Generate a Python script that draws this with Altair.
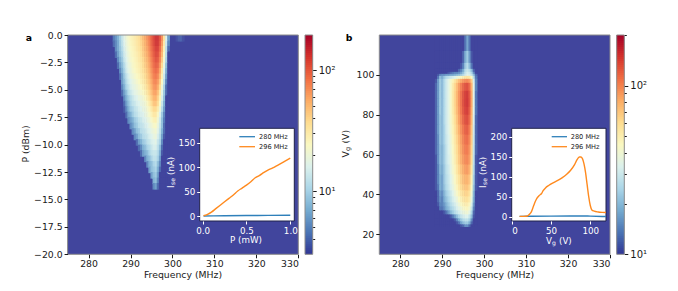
import altair as alt
import numpy as np
import pandas as pd

FONT = "DejaVu Sans"
W, H = 662, 275

# ---------- panel a heat map: each row ends at 299 MHz, 0.5 MHz steps, 0.5 dBm rows
a_power = [0.0, -0.5, -1.0, -1.5, -2.0, -2.5, -3.0, -3.5, -4.0, -4.5, -5.0, -5.5, -6.0, -6.5,
           -7.0, -7.5, -8.0, -8.5, -9.0, -9.5, -10.0, -10.5, -11.0, -11.5, -12.0, -12.5, -13.0, -13.5]
a_rows = [
    [4.5,5.5,7,9.5,13,17,20,23,26,28,30,33,36,42,50,58,68,82,100,120, 140,140,110,70,35,16,6],
    [4,5,6.5,9,12,16,19,22,25,27,29,32,35,40,47,55,65,78,96,115, 135,135,105,65,32,14,5],
    [5,6.5,8.5,11,15,18,21,24,26,28,31,34,38,45,52,61,74,91,108, 125,125,95,58,28,12,4],
    [4,6,8,10,14,17,20,23,25,27,29,32,36,42,49,57,69,85,102, 118,115,85,52,25,11,3],
    [5,7,9,13,16,19,22,24,26,28,31,34,39,46,53,64,79,95, 110,105,78,45,22,10,3],
    [4,6,8,11,15,18,20,23,25,27,29,32,37,43,50,60,74,90, 100,95,68,38,19,8,3],
    [5,7,10,14,17,19,22,24,26,28,31,35,40,47,56,69,84, 92,85,60,32,16,7,3],
    [4,6,9,12,15,18,20,22,24,26,29,32,37,44,52,64,78, 84,75,52,28,14,6,3],
    [6,8,11,14,16,18,20,22,24,27,30,34,41,48,59,72, 76,66,45,24,12,5,3],
    [5,7,10,12,15,17,18,20,22,24,27,31,37,44,54,66, 69,58,38,20,10,4,3],
    [4,6,8,11,13,15,17,18,20,22,24,28,33,40,49,60, 62,50,32,17,9,4,3],
    [5,7,9,11,13,15,16,18,19,21,24,29,35,43,53, 55,42,27,15,8,3,3],
    [4,6,8,10,12,13,15,16,18,19,21,25,30,37,46, 47,38,24,13,7,3,3],
    [3.5,5,7,9,10,12,13,15,16,18,19,22,26,31,38, 38,30,20,11,6,3,3],
    [4,6,7,9,11,12,14,15,16,18,20,23,27,32, 32,25,16,9,5,3,3],
    [5,6,7,9,10,12,13,15,16,18,20,23,27, 28,21,14,8,4.5,3,3],
    [5,6,8,9,11,12,13,15,16,18,20,23, 24,19,13,8,4,3,3],
    [5,6,8,9,11,12,13,15,16,18,20, 21,17,12,7,4,3,3],
    [5,6,8,9,11,12,13,15,16,18, 19,15,11,6,3.5,3,3],
    [4,6,7,9,10,12,13,15,16, 17,13,10,5,3,3,3],
    [4,5,7,8,10,11,13,15, 15,12,8,4,3,3,3],
    [4,6,7,8,10,12,13, 13,11,7,3.5,3,3,3],
    [5,7,8,10,12, 12,10,6,3,3,3,3],
    [5,7,8,10, 11,8,5,3,3,3,3],
    [6,8,9, 10,7,4,3,3,3,3],
    [6,8, 9,6,3,3,3,3,3],
    [7, 8,5,3,3,3,3,3],
    [5, 6,4,3,3,3,3,3],
]
a_blob_freq = [301.0, 301.5, 302.0, 302.5]
a_blob_vals = [3.3, 3.7, 3.8, 3.3]

# ---------- panel b heat map: columns 288.5 .. 298 MHz, rows between gate-voltage edges
b_freq = [288.5, 289, 289.5, 290, 290.5, 291, 291.5, 292, 292.5, 293,
          293.5, 294, 294.5, 295, 295.5, 296, 296.5, 297, 297.5, 298]
b_edges = [120, 112, 106, 103, 101.5, 100.5, 99.5, 98, 96, 92, 88, 84, 80, 75, 70, 65, 60, 55,
           50, 45, 42, 39, 36, 34, 32, 30, 28, 26.5, 25, 24]
b_rows = [
    [10,10,10,10,10,10,10,10,10,10,10,10,10,10,13,17,13,10,10,10],
    [10,10,10,10,10,10,10,10,10,10,10,10,10,12,18,22,16,11,10,10],
    [10,10,10,10,10,10,10,10,10,10,10,10,11,14,22,26,20,13,10,10],
    [10,10,10,10,10,10,10,10,10,10,10,12,14,18,26,29,26,20,12,10],
    [10,10,10,10,10,10,11,12,13,14,14,15,17,21,28,32,30,24,15,10],
    [10,11,14,15,15,16,16,17,17,18,19,20,22,25,30,34,32,28,20,12],
    [10,13,20,18,22,25,27,29,31,33,37,40,46,50,55,57,54,44,26,13],
    [11,16,22,20,25,30,35,41,48,56,65,75,84,92,98,100,92,68,32,14],
    [12,16,22,20,25,30,35,42,52,63,75,90,105,120,132,136,118,80,35,14],
    [12,16,22,20,25,30,35,42,53,64,78,94,112,132,148,154,130,85,35,13],
    [12,16,22,20,25,30,35,42,53,64,78,94,112,134,150,156,132,85,35,13],
    [12,16,22,20,25,30,35,42,52,63,76,92,110,130,145,150,126,82,34,13],
    [12,16,21,20,25,30,35,41,50,60,72,88,103,120,135,138,118,78,32,12],
    [12,16,21,20,24,30,34,40,48,57,68,82,96,110,123,126,108,72,30,12],
    [12,15,21,20,24,29,33,38,46,54,64,76,89,102,113,116,100,68,29,12],
    [12,15,20,19,23,28,33,37,44,52,61,73,85,97,106,108,94,64,28,12],
    [11,15,20,19,23,28,32,36,43,50,59,70,81,91,99,101,90,61,27,11],
    [11,14,19,18,22,27,30,35,41,47,55,64,73,82,89,91,81,55,25,11],
    [11,14,18,17,22,26,29,33,38,44,51,58,66,74,79,80,71,49,23,11],
    [11,13,18,17,21,25,28,32,36,41,47,54,61,67,71,72,64,44,21,11],
    [10,12,16,15,19,23,26,29,33,38,43,49,55,60,64,64,58,40,19,10],
    [10,12,15,14,18,21,24,27,31,34,38,44,49,54,57,58,52,36,18,10],
    [10,11,14,14,16,19,22,25,28,31,35,39,44,48,51,51,46,32,16,10],
    [10,10,13,13,15,18,20,23,25,28,32,35,39,43,45,46,41,28,14,10],
    [10,10,10,10,11,13,16,19,22,25,28,31,34,37,39,40,35,24,12,10],
    [10,10,10,10,10,10,10,11,13,16,20,24,28,31,33,33,28,20,11,10],
    [10,10,10,10,10,10,10,10,10,11,14,18,22,25,27,27,23,15,10,10],
    [10,10,10,10,10,10,10,10,10,10,11,13,17,20,22,22,18,12,10,10],
    [10,10,10,10,10,10,10,10,10,10,10,10,11,12,15,15,12,10,10,10],
]

# ---------- inset curves
ia_p_296 = [0.01,0.05,0.1,0.15,0.2,0.25,0.3,0.35,0.4,0.45,0.5,0.55,0.6,0.65,0.7,0.75,0.8,0.85,0.9,0.95,1.0]
ia_i_296 = [0.5,3,8,15,22,29,36,43,51,57,63,70,78,83,89,94,98,103,108,113,118]
ia_p_280 = [0.01,0.25,0.5,0.75,1.0]
ia_i_280 = [0.1,0.6,1.0,1.2,1.5]
ib_v_296 = [10,15,20,22,25,28,30,32,35,38,40,43,47,52,58,64,70,75,80,83,86,88,90,92,94,96,98,100,102,105,110,115,120]
ib_i_296 = [1,1,2,5,12,28,38,46,53,58,65,72,78,84,90,97,106,116,130,142,149,149,145,132,110,80,50,28,17,14,12,11,10.5]
ib_v_280 = [10,50,90,100,120]
ib_i_280 = [1,1.5,2,1.5,0.5]

a_label, b_label = "a", "b"
xticks = [280, 290, 300, 310, 320, 330]
ya_ticks = [0, -2.5, -5, -7.5, -10, -12.5, -15, -17.5, -20]
yb_ticks = [20, 40, 60, 80, 100]
series_names = ["280 MHz", "296 MHz"]
BLUE, ORANGE = "#2f80ba", "#ff8a1e"
FRAME = "#8c8c8c"
INK = "#1a1a1a"


def xy_scale(domain, rng):
    return alt.Scale(domain=domain, range=rng, nice=False, zero=False)


def cscale(lo, hi):
    return alt.Scale(type="log", domain=[lo, hi], scheme="redyellowblue", reverse=True, clamp=True)


def box(x0, x1, y0, y1):
    return pd.DataFrame({"x0": [x0], "x1": [x1], "y0": [y0], "y1": [y1]})


def heat_layers(cells, bg, sx, sy, cs, xvals, yvals, yfmt, xoff, yoff):
    b = box(sx.domain[0], sx.domain[1], sy.domain[0], sy.domain[1])
    b["v"] = bg
    base = alt.Chart(b).mark_rect().encode(
        x=alt.X("x0:Q", scale=sx, axis=None), x2="x1:Q",
        y=alt.Y("y0:Q", scale=sy, axis=None), y2="y1:Q",
        color=alt.Color("v:Q", scale=cs, legend=None))
    heat = alt.Chart(cells).mark_rect().encode(
        x=alt.X("x0:Q", scale=sx, axis=None), x2="x1:Q",
        y=alt.Y("y0:Q", scale=sy, axis=None), y2="y1:Q",
        color=alt.Color("v:Q", scale=cs, legend=None))
    veil = alt.Chart(b).mark_rect(fill="white", opacity=0.08).encode(
        x=alt.X("x0:Q", scale=sx, axis=None), x2="x1:Q",
        y=alt.Y("y0:Q", scale=sy, axis=None), y2="y1:Q")
    frame = alt.Chart(b).mark_rect(filled=False, stroke=FRAME, strokeWidth=1).encode(
        x=alt.X("x0:Q", scale=sx, axis=alt.Axis(
            orient="bottom", offset=xoff, values=xvals, title=None, grid=False, domain=False,
            tickColor=INK, tickSize=3.5, labelColor=INK, labelFont=FONT, labelFontSize=9.3,
            labelPadding=2, zindex=1, format="d")), x2="x1:Q",
        y=alt.Y("y0:Q", scale=sy, axis=alt.Axis(
            orient="left", offset=yoff, values=yvals, title=None, grid=False, domain=False,
            tickColor=INK, tickSize=3.5, labelColor=INK, labelFont=FONT, labelFontSize=9.3,
            labelPadding=2, zindex=1, format=yfmt)), y2="y1:Q")
    return [base, heat, veil, frame]


def colorbar_layers(lo, hi, x0, x1, yrange, major, minor, offset):
    sy = alt.Scale(type="log", domain=[lo, hi], range=yrange, nice=False, zero=False)
    cs = cscale(lo, hi)
    edges = np.geomspace(lo, hi, 111)
    ramp = pd.DataFrame({"y0": edges[:-1], "y1": np.minimum(edges[:-1] * (edges[1] / edges[0]) ** 2, hi),
                         "v": np.sqrt(edges[:-1] * edges[1:])})
    bar = alt.Chart(ramp).mark_rect().encode(
        x=alt.value(x0), x2=alt.value(x1),
        y=alt.Y("y0:Q", scale=sy, axis=None), y2="y1:Q",
        color=alt.Color("v:Q", scale=cs, legend=None))
    b = pd.DataFrame({"y0": [lo], "y1": [hi]})
    fr = alt.Chart(b).mark_rect(filled=False, stroke=FRAME, strokeWidth=1).encode(
        x=alt.value(x0), x2=alt.value(x1),
        y=alt.Y("y0:Q", scale=sy, axis=alt.Axis(
            orient="right", offset=offset, values=major, title=None, grid=False, domain=False,
            tickColor=INK, tickSize=3.5, labelColor=INK, labelFont=FONT, labelFontSize=10,
            labelPadding=2, zindex=1,
            labelExpr="datum.value >= 100 ? '10\u00b2' : '10\u00b9'")), y2="y1:Q")
    mn = alt.Chart(b).mark_rect(opacity=0).encode(
        x=alt.value(x0), x2=alt.value(x1),
        y=alt.Y("y0:Q", scale=sy, axis=alt.Axis(
            orient="right", offset=offset, values=minor, title=None, grid=False, domain=False,
            tickColor=INK, tickSize=2, labels=False, zindex=1)), y2="y1:Q")
    return [bar, fr, mn]


def inset_layers(sx, sy, xvals, yvals, xfmt, lines, xoff, yoff):
    b = box(sx.domain[0], sx.domain[1], sy.domain[0], sy.domain[1])
    wh = alt.Chart(b).mark_rect(fill="white", stroke="#20224a", strokeWidth=1).encode(
        x=alt.X("x0:Q", scale=sx, axis=alt.Axis(
            orient="bottom", offset=xoff, values=xvals, title=None, grid=False, domain=False,
            tickColor="white", tickSize=3, labelColor="white", labelFont=FONT, labelFontSize=8.7,
            labelPadding=2, zindex=1, format=xfmt)), x2="x1:Q",
        y=alt.Y("y0:Q", scale=sy, axis=alt.Axis(
            orient="left", offset=yoff, values=yvals, title=None, grid=False, domain=False,
            tickColor="white", tickSize=3, labelColor="white", labelFont=FONT, labelFontSize=8.7,
            labelPadding=2, zindex=1, format="d")), y2="y1:Q")
    out = [wh]
    for xs, ys, col in lines:
        out.append(alt.Chart(pd.DataFrame({"x": xs, "y": ys})).mark_line(
            color=col, strokeWidth=1.4, interpolate="monotone").encode(
            x=alt.X("x:Q", scale=sx, axis=None), y=alt.Y("y:Q", scale=sy, axis=None)))
    return out


def text(s, x, y, size=9.3, color=INK, angle=0, align="center", weight="normal"):
    return alt.Chart(pd.DataFrame({"t": [s]})).mark_text(
        font=FONT, fontSize=size, color=color, angle=angle, align=align, baseline="middle",
        fontWeight=weight).encode(text="t:N", x=alt.value(x - 8), y=alt.value(y - 8))


def sub_title(main, sub, rest, x, y, size, color, vertical, w_main, w_sub):
    """Title with a real lowered subscript; (x, y) is the start of the string."""
    s2 = size * 0.7
    if vertical:
        return [text(main, x, y, size, color, 270, "left"),
                text(sub, x + 2, y - w_main, s2, color, 270, "left"),
                text(rest, x, y - w_main - w_sub, size, color, 270, "left")]
    return [text(main, x, y, size, color, 0, "left"),
            text(sub, x + w_main, y + 2, s2, color, 0, "left"),
            text(rest, x + w_main + w_sub, y, size, color, 0, "left")]


def legend_layers(x0, x1, xt, y1, y2):
    out = []
    for name, col, yy in [(series_names[0], BLUE, y1), (series_names[1], ORANGE, y2)]:
        out.append(alt.Chart(pd.DataFrame({"t": [name]})).mark_rule(color=col, strokeWidth=1.3).encode(
            x=alt.value(x0 - 8), x2=alt.value(x1 - 8), y=alt.value(yy - 8)))
        out.append(text(name, xt, yy, 6.6, INK, 0, "left"))
    return out


# ---------- cells (each cell slightly overlaps the next one drawn, which hides seams)
cells_a = []
for p, row in zip(a_power, a_rows):
    for i, v in enumerate(row):
        f = 299 - 0.5 * (len(row) - 1 - i)
        cells_a.append({"x0": f - 0.25, "x1": f + 0.4, "y0": p, "y1": p - 0.6, "v": v})
for f, v in zip(a_blob_freq, a_blob_vals):
    cells_a.append({"x0": f - 0.25, "x1": f + 0.4, "y0": 0.0, "y1": -0.6, "v": v})
cells_a = pd.DataFrame(cells_a)

cells_b = []
for j, row in enumerate(b_rows):
    for f, v in zip(b_freq, row):
        cells_b.append({"x0": f - 0.25, "x1": f + 0.4, "y0": b_edges[j], "y1": b_edges[j + 1] - 0.3, "v": v})
cells_b = pd.DataFrame(cells_b)

# ---------- scales (pixel ranges inside the whole figure)
sxa = xy_scale([275, 330], [59.6, 290.3])
sya = xy_scale([-20, 0], [246.3, 27])
sxb = xy_scale([275, 330], [371.3, 602])
syb = xy_scale([10, 120], [246.3, 27])
ixa = xy_scale([-0.034, 1.046], [191.7, 286.3])
iya = xy_scale([-10.2, 179], [213, 120.3])
ixb = xy_scale([0, 120], [503.7, 598])
iyb = xy_scale([-10.6, 220.7], [213, 120.3])

layers = []
layers += heat_layers(cells_a, 3, sxa, sya, cscale(3, 195), xticks, ya_ticks, ".1f", -28.7, -59.6)
layers += heat_layers(cells_b, 10, sxb, syb, cscale(10, 200), xticks, yb_ticks, "d", -28.7, -371.3)
layers += colorbar_layers(3, 195, 297, 304.7, [246.3, 27], [10, 100],
                          [4, 5, 6, 7, 8, 9, 20, 30, 40, 50, 60, 70, 80, 90], -357.3)
layers += colorbar_layers(10, 200, 608.7, 616.3, [246.3, 27], [10, 100],
                          [20, 30, 40, 50, 60, 70, 80, 90, 200], -45.7)
layers += inset_layers(ixa, iya, [0, 0.5, 1], [0, 50, 100, 150], ".1f",
                       [(ia_p_280, ia_i_280, BLUE), (ia_p_296, ia_i_296, ORANGE)], -62, -191.7)
layers += inset_layers(ixb, iyb, [0, 50, 100], [0, 50, 100, 150, 200], "d",
                       [(ib_v_280, ib_i_280, BLUE), (ib_v_296, ib_i_296, ORANGE)], -62, -503.7)
layers += legend_layers(239.3, 255, 259, 136.7, 146.7)
layers += legend_layers(551.7, 567, 570.7, 136.7, 146.7)
layers += [
    text(a_label, 29, 38, 9.3, "black", weight="bold"),
    text(b_label, 349, 37.5, 9.3, "black", weight="bold"),
    text("Frequency (MHz)", 183, 275),
    text("Frequency (MHz)", 495, 275),
    text("P (dBm)", 26, 144, angle=270),
    text("P (mW)", 246, 240, 8.7, "white"),
]
layers += sub_title("V", "g", "(V)", 345.7, 157.5, 9.3, INK, True, 6.4, 7.5)
layers += sub_title("I", "se", "(nA)", 170.7, 188, 8.7, "white", True, 3, 10)
layers += sub_title("I", "se", "(nA)", 482.7, 188, 8.7, "white", True, 3, 10)
layers += sub_title("V", "g", "(V)", 546, 241, 8.7, "white", False, 6, 7)

chart = alt.layer(*layers).resolve_scale(
    x="independent", y="independent", color="independent"
).properties(
    width=W, height=H, padding=0, autosize=alt.AutoSizeParams(type="none"), background="white"
).configure_view(stroke=None)

chart.save("out.html", embed_options={"renderer": "svg", "actions": False})
